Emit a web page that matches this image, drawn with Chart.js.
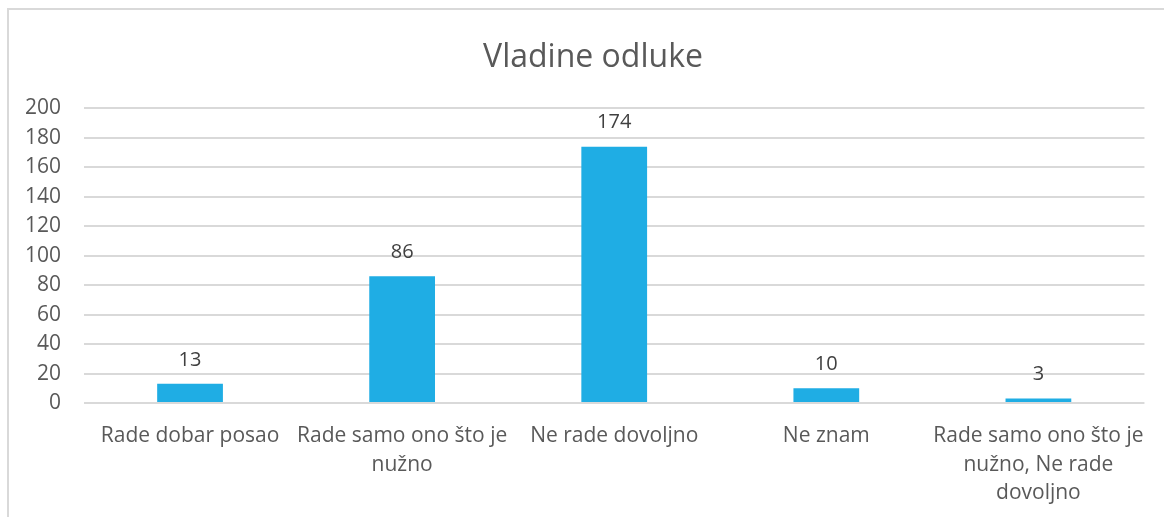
<!DOCTYPE html>
<html lang="en">
<head>
    <meta charset="UTF-8">
    <script src="https://cdn.jsdelivr.net/npm/chart.js@4"></script>
    <title>Vladine odluke</title>
    <style>
        html, body {
            margin: 0;
            padding: 0;
            background: #fff;
            overflow: hidden;
        }
        .frame {
            position: absolute;
            left: 7px;
            top: 8px;
            width: 1200px;
            height: 600px;
            border-left: 2px solid #d9d9d9;
            border-top: 2px solid #d9d9d9;
        }
        .chart-box {
            position: absolute;
            left: 0;
            top: 0;
            width: 1164px;
            height: 517px;
        }
    </style>
</head>
<body>
    <div class="frame"></div>
    <div class="chart-box">
        <canvas id="odlukeChart"></canvas>
    </div>
    <script>
        const categories = [
            "Rade dobar posao",
            ["Rade samo ono što je", "nužno"],
            "Ne rade dovoljno",
            "Ne znam",
            ["Rade samo ono što je", "nužno, Ne rade", "dovoljno"]
        ];
        const counts = [13, 86, 174, 10, 3];
        const yTicks = [0, 20, 40, 60, 80, 100, 120, 140, 160, 180, 200];

        const textColor = '#595959';
        const fontFamily = "'Open Sans', 'DejaVu Sans', sans-serif";

        // draws the number above every bar
        const valueLabels = {
            id: 'valueLabels',
            afterDatasetsDraw(chart) {
                const ctx = chart.ctx;
                const meta = chart.getDatasetMeta(0);
                ctx.save();
                ctx.fillStyle = '#404040';
                ctx.font = '20px ' + fontFamily;
                ctx.textAlign = 'center';
                ctx.textBaseline = 'middle';
                meta.data.forEach((bar, i) => {
                    ctx.fillText(String(counts[i]), bar.x, bar.y - 24);
                });
                ctx.restore();
            }
        };

        // the title is centred on the outer frame, not on the plot
        const titleShift = {
            id: 'titleShift',
            afterLayout(chart) {
                if (chart.titleBlock) chart.titleBlock.left = 37;
            }
        };

        const ctx = document.getElementById('odlukeChart').getContext('2d');
        new Chart(ctx, {
            type: 'bar',
            data: {
                labels: categories,
                datasets: [{
                    data: counts,
                    backgroundColor: '#1FADE4',
                    borderWidth: 0,
                    barPercentage: 0.31,
                    categoryPercentage: 1
                }]
            },
            options: {
                responsive: true,
                maintainAspectRatio: false,
                animation: false,
                layout: {
                    padding: { top: 39, right: 15, bottom: 0, left: 0 }
                },
                plugins: {
                    legend: { display: false },
                    tooltip: { enabled: false },
                    title: {
                        display: true,
                        text: 'Vladine odluke',
                        color: textColor,
                        font: { family: fontFamily, size: 32, weight: 'normal' },
                        padding: { top: 0, bottom: 31 }
                    }
                },
                scales: {
                    x: {
                        grid: { display: false, drawTicks: false },
                        border: { display: false },
                        ticks: {
                            color: textColor,
                            font: { family: fontFamily, size: 21, lineHeight: 1.36 },
                            padding: 19,
                            maxRotation: 0,
                            autoSkip: false
                        },
                        afterFit(scale) { scale.height = 114; }
                    },
                    y: {
                        min: 0,
                        max: 200,
                        afterBuildTicks(scale) {
                            scale.ticks = yTicks.map(v => ({ value: v }));
                        },
                        grid: { color: '#d9d9d9', lineWidth: 2, drawTicks: false },
                        border: { display: false },
                        ticks: {
                            color: textColor,
                            font: { family: fontFamily, size: 21 },
                            padding: 23
                        },
                        afterFit(scale) { scale.width = 84; }
                    }
                }
            },
            plugins: [valueLabels, titleShift]
        });
    </script>
</body>
</html>
